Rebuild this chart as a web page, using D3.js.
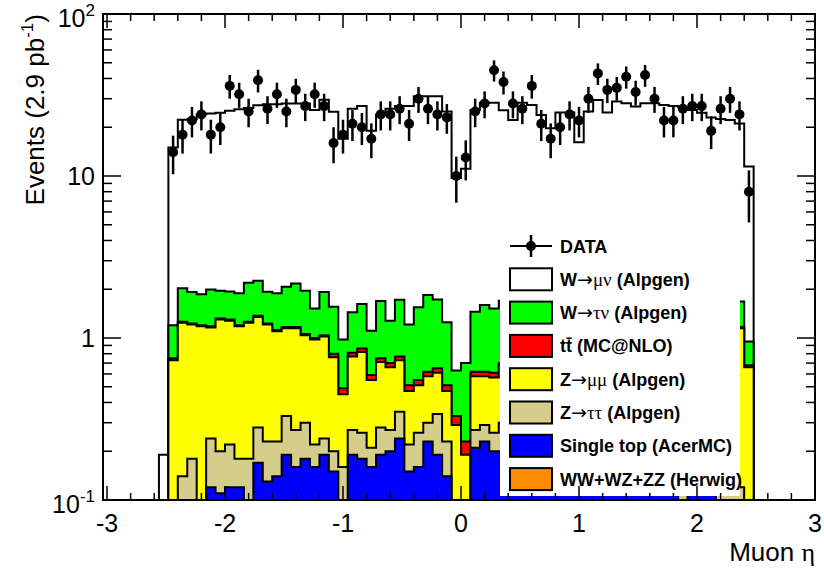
<!DOCTYPE html>
<html>
<head>
<meta charset="utf-8">
<title>Muon eta</title>
<script src="https://d3js.org/d3.v7.min.js"></script>
<style>
  body { margin: 0; background: #fff; }
  text { font-family: "Liberation Sans", Arial, sans-serif; }
</style>
</head>
<body>
<svg width="824" height="569"></svg>
<script>
  // bins: first one is -2.56..-2.48, then 62 bins of 0.08 up to 2.48
  const binLow = d3.range(63).map(i => -2.56 + 0.08 * i);
  const binWidth = 0.08;

  const dataCounts = [null,
    14, 18, 22, 24, 18, 20, 36, 32, 25, 39, 26, 32, 25, 34, 27, 32, 27, 16, 18, 21,
    20, 17, 24, 24, 26, 21, 30, 26, 24, 23, 10, 13, 25, 28, 45, 38, 28, 26, 36, 21,
    17, 20, 24, 22, 30, 43, 34, 35, 41, 33, 42, 30, 22, 22, 26, 27, 27, 19, 26, 30,
    24, 8];

  const wmunu = [0.19,
    13.8, 20.2, 20.5, 22.1, 22.3, 22.6, 23.3, 23.9, 24.1, 25.1, 25.8, 25.8, 26.0, 25.9, 26.1, 24.0,
    27.6, 23.4, 16.0, 24.6, 25.4, 17.9, 22.3, 24.7, 25.3, 25.8, 29.5, 29.2, 29.3, 23.8, 9.1, 10.4,
    24.1, 26.7, 26.8, 23.8, 20.8, 26.6, 25.8, 22.5, 18.5, 23.1, 23.0, 14.9, 23.2, 27.5, 22.9, 26.8,
    26.2, 25.0, 26.0, 26.1, 25.5, 25.2, 24.5, 23.6, 22.7, 21.0, 20.5, 20.3, 19.4, 10.5];

  const wtaunu = [0,
    0.45, 0.77, 0.69, 0.66, 0.81, 0.64, 0.64, 0.69, 0.93, 0.89, 0.70, 0.77, 0.90, 1.00, 0.90, 0.52,
    0.88, 0.76, 0.49, 0.63, 0.76, 0.52, 0.94, 0.58, 0.95, 0.70, 1.00, 1.22, 1.08, 0.74, 0.30, 0.47,
    0.83, 0.98, 0.91, 1.00, 0.80, 1.03, 0.80, 0.64, 0.58, 0.77, 0.80, 0.55, 0.85, 0.95, 0.75, 0.95,
    0.80, 0.77, 0.90, 0.82, 0.75, 0.63, 0.80, 0.75, 0.62, 0.75, 0.73, 0.70, 0.51, 0.27];

  const ttbar = [0,
    0.02, 0.02, 0.02, 0.02, 0.02, 0.02, 0.02, 0.02, 0.02, 0.02, 0.02, 0.02, 0.02, 0.02, 0.02, 0.02,
    0.02, 0.04, 0.04, 0.04, 0.04, 0.04, 0.04, 0.04, 0.04, 0.04, 0.04, 0.04, 0.04, 0.04, 0.04, 0.04,
    0.04, 0.04, 0.04, 0.02, 0.02, 0.02, 0.02, 0.02, 0.02, 0.02, 0.02, 0.02, 0.02, 0.02, 0.02, 0.02,
    0.02, 0.02, 0.02, 0.02, 0.02, 0.02, 0.02, 0.02, 0.02, 0.02, 0.02, 0.02, 0.02, 0.02];

  const zmumu = [0,
    0.63, 1.10, 1.03, 1.08, 0.92, 1.10, 1.06, 1.00, 1.06, 1.07, 0.98, 0.87, 0.82, 0.88, 0.74, 0.76,
    0.78, 0.56, 0.29, 0.50, 0.56, 0.34, 0.43, 0.39, 0.38, 0.25, 0.25, 0.28, 0.27, 0.24, 0.19, 0.09,
    0.31, 0.29, 0.31, 0.38, 0.33, 0.38, 0.50, 0.42, 0.40, 0.49, 0.57, 0.47, 0.65, 0.78, 0.71, 0.78,
    0.89, 0.80, 0.96, 0.92, 0.93, 0.99, 1.05, 0.99, 1.09, 1.07, 1.06, 1.06, 1.03, 0.57];

  const ztautau = [0,
    0.05, 0.08, 0.11, 0.04, 0.12, 0.09, 0.10, 0.06, 0.09, 0.11, 0.10, 0.09, 0.14, 0.11, 0.12, 0.06,
    0.05, 0.05, 0.07, 0.08, 0.08, 0.05, 0.09, 0.07, 0.11, 0.07, 0.10, 0.07, 0.15, 0.09, 0.03, 0.03,
    0.06, 0.06, 0.06, 0.10, 0.08, 0.10, 0.09, 0.07, 0.04, 0.09, 0.07, 0.06, 0.10, 0.08, 0.08, 0.12,
    0.08, 0.11, 0.08, 0.09, 0.07, 0.09, 0.09, 0.07, 0.04, 0.05, 0.06, 0.05, 0.06, 0.05];

  const singleTop = [0,
    0.04, 0.05, 0.06, 0.05, 0.11, 0.10, 0.11, 0.11, 0.08, 0.16, 0.12, 0.13, 0.18, 0.15, 0.17, 0.15,
    0.18, 0.14, 0.08, 0.18, 0.17, 0.15, 0.18, 0.19, 0.23, 0.14, 0.15, 0.22, 0.18, 0.13, 0.06, 0.06,
    0.20, 0.22, 0.19, 0.19, 0.16, 0.21, 0.18, 0.14, 0.15, 0.17, 0.18, 0.14, 0.17, 0.16, 0.18, 0.17,
    0.15, 0.14, 0.13, 0.14, 0.12, 0.11, 0.08, 0.11, 0.12, 0.10, 0.07, 0.06, 0.05, 0.03];

  const diboson = [0,
    0.01, 0.01, 0.01, 0.01, 0.01, 0.01, 0.01, 0.01, 0.01, 0.01, 0.01, 0.01, 0.01, 0.01, 0.01, 0.01,
    0.01, 0.01, 0.01, 0.01, 0.01, 0.01, 0.01, 0.01, 0.01, 0.01, 0.01, 0.01, 0.01, 0.01, 0.01, 0.01,
    0.01, 0.01, 0.01, 0.01, 0.01, 0.01, 0.01, 0.01, 0.01, 0.01, 0.01, 0.01, 0.01, 0.01, 0.01, 0.01,
    0.01, 0.01, 0.01, 0.01, 0.01, 0.01, 0.01, 0.01, 0.01, 0.01, 0.01, 0.01, 0.01, 0.01];

  // stack order bottom -> top
  const samples = [
    { name: "WW+WZ+ZZ (Herwig)", values: diboson, color: "#ff8c00" },
    { name: "Single top (AcerMC)", values: singleTop, color: "#0000ff" },
    { name: "Z->tautau", values: ztautau, color: "#d5cd8b" },
    { name: "Z->mumu", values: zmumu, color: "#ffff00" },
    { name: "ttbar", values: ttbar, color: "#ff0000" },
    { name: "W->taunu", values: wtaunu, color: "#00ff00" },
    { name: "W->munu", values: wmunu, color: "#ffffff" }
  ];

  const svg = d3.select("svg");
  const padL = 103, padR = 815, padT = 14, padB = 500;

  const x = d3.scaleLinear().domain([-3.034, 3]).range([padL, padR]);
  const y = d3.scaleLog().domain([0.1, 100]).range([padB, padT]);
  const yv = v => y(Math.max(v, 0.01));

  svg.append("clipPath").attr("id", "frameClip")
    .append("rect").attr("x", padL).attr("y", padT)
    .attr("width", padR - padL).attr("height", padB - padT);

  const plot = svg.append("g").attr("clip-path", "url(#frameClip)");

  // cumulative sums, drawn from the tallest down
  const cumul = [];
  let run = binLow.map(() => 0);
  samples.forEach(s => {
    run = run.map((r, i) => r + s.values[i]);
    cumul.push({ color: s.color, tot: run.slice() });
  });

  const line = d3.line();
  function stepPoints(tot) {
    const pts = [[x(binLow[0]), y(0.01)]];
    tot.forEach((v, i) => {
      pts.push([x(binLow[i]), yv(v)]);
      pts.push([x(binLow[i] + binWidth), yv(v)]);
    });
    pts.push([x(binLow[binLow.length - 1] + binWidth), y(0.01)]);
    return pts;
  }

  cumul.slice().reverse().forEach(c => {
    plot.append("path")
      .attr("d", line(stepPoints(c.tot)) + "Z")
      .attr("fill", c.color)
      .attr("stroke", "#000")
      .attr("stroke-width", 2)
      .attr("stroke-linejoin", "miter");
  });

  // data points
  const pts = binLow.map((lo, i) => ({ eta: lo + binWidth / 2, n: dataCounts[i] }))
    .filter(d => d.n);
  plot.selectAll(".err").data(pts).enter().append("line")
    .attr("x1", d => x(d.eta)).attr("x2", d => x(d.eta))
    .attr("y1", d => y(d.n + Math.sqrt(d.n)))
    .attr("y2", d => y(Math.max(d.n - Math.sqrt(d.n), 0.01)))
    .attr("stroke", "#000").attr("stroke-width", 2.5);
  plot.selectAll(".pt").data(pts).enter().append("circle")
    .attr("cx", d => x(d.eta)).attr("cy", d => y(d.n)).attr("r", 5)
    .attr("fill", "#000");

  // legend
  const symbolFont = "'Liberation Serif', 'DejaVu Serif', serif";
  const arrowFont = "'DejaVu Sans', sans-serif";
  const legend = svg.append("g");
  legend.append("rect").attr("x", 500).attr("y", 228).attr("width", 240).attr("height", 268)
    .attr("fill", "#fff");
  const legendRows = [
    { parts: [["DATA", 0]], data: true },
    { parts: [["W", 0], ["\u2192", 2], ["\u03bc\u03bd", 1], [" (Alpgen)", 0]], color: "#ffffff" },
    { parts: [["W", 0], ["\u2192", 2], ["\u03c4\u03bd", 1], [" (Alpgen)", 0]], color: "#00ff00" },
    { parts: [["tt\u0304 (MC@NLO)", 0]], color: "#ff0000" },
    { parts: [["Z", 0], ["\u2192", 2], ["\u03bc\u03bc", 1], [" (Alpgen)", 0]], color: "#ffff00" },
    { parts: [["Z", 0], ["\u2192", 2], ["\u03c4\u03c4", 1], [" (Alpgen)", 0]], color: "#d5cd8b" },
    { parts: [["Single top (AcerMC)", 0]], color: "#0000ff" },
    { parts: [["WW+WZ+ZZ (Herwig)", 0]], color: "#ff8c00" }
  ];
  legendRows.forEach((r, i) => {
    const cy = 246 + i * 33.3;
    if (r.data) {
      legend.append("line").attr("x1", 510).attr("x2", 552).attr("y1", cy).attr("y2", cy)
        .attr("stroke", "#000").attr("stroke-width", 2);
      legend.append("line").attr("x1", 531).attr("x2", 531).attr("y1", cy - 11).attr("y2", cy + 11)
        .attr("stroke", "#000").attr("stroke-width", 2.5);
      legend.append("circle").attr("cx", 531).attr("cy", cy).attr("r", 5).attr("fill", "#000");
    } else {
      legend.append("rect").attr("x", 510).attr("y", cy - 11).attr("width", 42).attr("height", 22)
        .attr("fill", r.color).attr("stroke", "#000").attr("stroke-width", 2);
    }
    const t = legend.append("text").attr("x", 560).attr("y", cy + 6.5)
      .attr("font-size", 18).attr("font-weight", "bold");
    r.parts.forEach(p => {
      const ts = t.append("tspan").text(p[0]);
      if (p[1] === 1) ts.attr("font-family", symbolFont).attr("font-weight", "normal").attr("font-size", 19);
      if (p[1] === 2) ts.attr("font-family", arrowFont).attr("font-weight", "normal").attr("font-size", 19);
    });
  });

  // frame
  svg.append("rect").attr("x", padL).attr("y", padT).attr("width", padR - padL).attr("height", padB - padT)
    .attr("fill", "none").attr("stroke", "#000").attr("stroke-width", 2);

  // ticks
  const xMajor = d3.range(-3, 3.01, 1);
  const xMinor = d3.range(-3, 3.01, 0.2).filter(v => Math.abs(v - Math.round(v)) > 0.01);
  const yMajor = [0.1, 1, 10, 100];
  const yMinor = [];
  [0.1, 1, 10].forEach(d => d3.range(2, 10).forEach(k => yMinor.push(d * k)));

  const ticks = svg.append("g").attr("stroke", "#000").attr("stroke-width", 1.5);
  function xTicks(vals, len) {
    vals.forEach(v => {
      ticks.append("line").attr("x1", x(v)).attr("x2", x(v)).attr("y1", padB).attr("y2", padB - len);
      ticks.append("line").attr("x1", x(v)).attr("x2", x(v)).attr("y1", padT).attr("y2", padT + len);
    });
  }
  function yTicks(vals, len) {
    vals.forEach(v => {
      ticks.append("line").attr("x1", padL).attr("x2", padL + len).attr("y1", y(v)).attr("y2", y(v));
      ticks.append("line").attr("x1", padR).attr("x2", padR - len).attr("y1", y(v)).attr("y2", y(v));
    });
  }
  xTicks(xMajor, 14);
  xTicks(xMinor, 7);
  yTicks(yMajor, 18);
  yTicks(yMinor, 9);

  // labels
  const xLabels = svg.append("g").attr("font-size", 25).attr("text-anchor", "middle");
  xMajor.forEach(v => {
    xLabels.append("text").attr("x", x(v)).attr("y", 532).text(v < 0 ? "-" + Math.abs(v) : String(v));
  });

  const yLabels = svg.append("g").attr("font-size", 25).attr("text-anchor", "end");
  const yLabelParts = [["10", "-1"], ["1", null], ["10", null], ["10", "2"]];
  yMajor.forEach((v, i) => {
    const [base, exp] = yLabelParts[i];
    const t = yLabels.append("text").attr("x", 95).attr("y", y(v) + (exp ? 13 : 9));
    t.append("tspan").text(base);
    if (exp) t.append("tspan").attr("font-size", 17).attr("dy", -11).text(exp);
  });

  svg.append("text").attr("x", padR).attr("y", 561).attr("text-anchor", "end").attr("font-size", 26)
    .call(t => {
      t.append("tspan").text("Muon ");
      t.append("tspan").attr("font-family", symbolFont).text("\u03b7");
    });

  const yTitle = svg.append("text").attr("transform", `translate(44,${padT}) rotate(-90)`)
    .attr("text-anchor", "end").attr("font-size", 26);
  yTitle.append("tspan").text("Events (2.9 pb");
  yTitle.append("tspan").attr("font-size", 17).attr("dy", -11).text("-1");
  yTitle.append("tspan").attr("dy", 11).text(")");
</script>
</body>
</html>
